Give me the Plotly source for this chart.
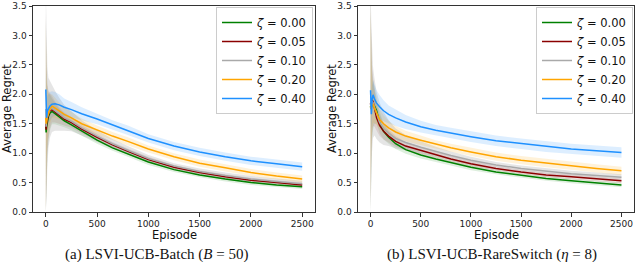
import plotly.graph_objects as go

# ---------------- data ----------------
episodes = [0, 1, 3, 8, 15, 25, 40, 60, 90, 130, 180, 250, 350, 500, 650, 800,
            1000, 1250, 1500, 1750, 2000, 2250, 2500]

zeta_labels = ["0.00", "0.05", "0.10", "0.20", "0.40"]
colors = ["#008000", "#8B0000", "#A9A9A9", "#FFA500", "#1E90FF"]
fills = ["rgba(0,128,0,0.13)", "rgba(139,0,0,0.13)", "rgba(169,169,169,0.30)",
         "rgba(255,165,0,0.15)", "rgba(30,144,255,0.15)"]

# Panel (a) LSVI-UCB-Batch: mean average regret
batch_z000 = [1.45, 1.40, 1.35, 1.45, 1.55, 1.62, 1.68, 1.71, 1.67, 1.61, 1.55, 1.48, 1.37, 1.22, 1.09, 0.99,
              0.85, 0.72, 0.63, 0.56, 0.50, 0.46, 0.43]
batch_z005 = [1.50, 1.45, 1.40, 1.50, 1.58, 1.65, 1.72, 1.74, 1.70, 1.64, 1.58, 1.52, 1.41, 1.27, 1.14, 1.03,
              0.89, 0.76, 0.67, 0.60, 0.54, 0.50, 0.46]
batch_z010 = [1.75, 1.60, 1.45, 1.55, 1.62, 1.68, 1.74, 1.76, 1.72, 1.66, 1.60, 1.54, 1.43, 1.29, 1.16, 1.05,
              0.91, 0.78, 0.69, 0.62, 0.56, 0.52, 0.48]
batch_z020 = [1.60, 1.55, 1.50, 1.55, 1.62, 1.68, 1.75, 1.80, 1.77, 1.72, 1.66, 1.60, 1.50, 1.39, 1.29, 1.20,
              1.07, 0.94, 0.83, 0.75, 0.67, 0.61, 0.56]
batch_z040 = [2.08, 2.00, 1.85, 1.60, 1.72, 1.76, 1.80, 1.83, 1.84, 1.82, 1.78, 1.74, 1.67, 1.58, 1.48, 1.39,
              1.25, 1.12, 1.02, 0.94, 0.87, 0.82, 0.77]

# Panel (a) band half-widths (std)
batch_s000 = [1.9, 1.9, 1.6, 1.0, 0.6, 0.42, 0.30, 0.22, 0.18, 0.14, 0.11, 0.09, 0.07, 0.06, 0.05, 0.05,
              0.05, 0.04, 0.04, 0.04, 0.04, 0.04, 0.04]
batch_s005 = [1.9, 1.9, 1.6, 1.0, 0.6, 0.42, 0.30, 0.22, 0.18, 0.14, 0.11, 0.09, 0.07, 0.06, 0.05, 0.05,
              0.05, 0.04, 0.04, 0.04, 0.04, 0.04, 0.04]
batch_s010 = [2.0, 2.0, 1.8, 1.3, 0.85, 0.6, 0.48, 0.40, 0.34, 0.28, 0.22, 0.17, 0.13, 0.10, 0.08, 0.07,
              0.06, 0.05, 0.05, 0.05, 0.05, 0.05, 0.05]
batch_s020 = [1.6, 1.5, 1.2, 0.7, 0.45, 0.32, 0.25, 0.20, 0.17, 0.14, 0.12, 0.10, 0.09, 0.08, 0.07, 0.07,
              0.06, 0.06, 0.06, 0.06, 0.06, 0.06, 0.06]
batch_s040 = [0.25, 0.25, 0.25, 0.25, 0.25, 0.25, 0.24, 0.22, 0.20, 0.18, 0.15, 0.13, 0.11, 0.09, 0.08, 0.08,
              0.07, 0.07, 0.07, 0.07, 0.07, 0.07, 0.07]

# Panel (b) LSVI-UCB-RareSwitch: mean average regret
rare_z000 = [1.80, 1.78, 1.75, 1.78, 1.82, 1.82, 1.80, 1.72, 1.52, 1.37, 1.27, 1.16, 1.06, 0.97, 0.90, 0.84,
             0.76, 0.68, 0.62, 0.57, 0.53, 0.49, 0.46]
rare_z005 = [1.85, 1.82, 1.80, 1.85, 1.90, 1.88, 1.75, 1.60, 1.47, 1.37, 1.29, 1.20, 1.12, 1.05, 0.97, 0.90,
             0.82, 0.74, 0.68, 0.63, 0.60, 0.56, 0.53]
rare_z010 = [1.85, 1.82, 1.80, 1.84, 1.88, 1.86, 1.78, 1.64, 1.52, 1.42, 1.34, 1.25, 1.18, 1.10, 1.03, 0.96,
             0.88, 0.80, 0.74, 0.69, 0.65, 0.62, 0.59]
rare_z020 = [1.80, 1.78, 1.75, 1.78, 1.82, 1.84, 1.76, 1.68, 1.57, 1.50, 1.43, 1.36, 1.29, 1.22, 1.15, 1.09,
             1.02, 0.94, 0.88, 0.83, 0.78, 0.74, 0.70]
rare_z040 = [2.07, 1.95, 1.80, 1.66, 1.90, 1.99, 1.92, 1.85, 1.79, 1.72, 1.66, 1.60, 1.53, 1.45, 1.39, 1.34,
             1.28, 1.21, 1.16, 1.11, 1.07, 1.04, 1.01]

rare_s000 = [1.9, 1.9, 1.6, 1.0, 0.6, 0.42, 0.30, 0.22, 0.18, 0.14, 0.11, 0.09, 0.07, 0.06, 0.05, 0.05,
             0.05, 0.04, 0.04, 0.04, 0.04, 0.04, 0.04]
rare_s005 = [1.9, 1.9, 1.6, 1.0, 0.6, 0.42, 0.30, 0.22, 0.18, 0.14, 0.11, 0.09, 0.07, 0.06, 0.05, 0.05,
             0.05, 0.04, 0.04, 0.04, 0.04, 0.04, 0.04]
rare_s010 = [2.0, 2.0, 1.8, 1.3, 0.85, 0.6, 0.48, 0.40, 0.34, 0.28, 0.22, 0.17, 0.13, 0.10, 0.08, 0.07,
             0.06, 0.05, 0.05, 0.05, 0.05, 0.05, 0.05]
rare_s020 = [1.6, 1.5, 1.2, 0.7, 0.45, 0.32, 0.25, 0.20, 0.17, 0.14, 0.12, 0.10, 0.09, 0.08, 0.07, 0.07,
             0.07, 0.07, 0.07, 0.07, 0.07, 0.07, 0.07]
rare_s040 = [0.25, 0.25, 0.25, 0.25, 0.25, 0.25, 0.24, 0.22, 0.20, 0.18, 0.15, 0.14, 0.12, 0.10, 0.09, 0.09,
             0.09, 0.09, 0.09, 0.09, 0.09, 0.09, 0.09]

x_ticks = [0, 500, 1000, 1500, 2000, 2500]
y_ticks = [0.0, 0.5, 1.0, 1.5, 2.0, 2.5, 3.0, 3.5]
y_ticktext = ["0.0", "0.5", "1.0", "1.5", "2.0", "2.5", "3.0", "3.5"]
captions = ["(a) LSVI-UCB-Batch (<i>B</i> = 50)", "(b) LSVI-UCB-RareSwitch (<i>η</i> = 8)"]

panels = [
    ([batch_z000, batch_z005, batch_z010, batch_z020, batch_z040],
     [batch_s000, batch_s005, batch_s010, batch_s020, batch_s040]),
    ([rare_z000, rare_z005, rare_z010, rare_z020, rare_z040],
     [rare_s000, rare_s005, rare_s010, rare_s020, rare_s040]),
]

# ---------------- figure ----------------
W, H = 640, 262
fig = go.Figure()

axes = [("x", "y", "legend"), ("x2", "y2", "legend2")]
for p, (means, stds) in enumerate(panels):
    xa, ya, lg = axes[p]
    for i in range(5):
        up = [m + s for m, s in zip(means[i], stds[i])]
        lo = [max(m - s, 0.0) for m, s in zip(means[i], stds[i])]
        fig.add_trace(go.Scatter(
            x=episodes + episodes[::-1], y=up + lo[::-1],
            fill="toself", fillcolor=fills[i], line=dict(width=0),
            mode="lines", hoverinfo="skip", showlegend=False,
            xaxis=xa, yaxis=ya))
    for i in range(5):
        fig.add_trace(go.Scatter(
            x=episodes, y=means[i], mode="lines",
            line=dict(color=colors[i], width=1.5),
            name="<i>ζ</i> = " + zeta_labels[i],
            legend=lg, xaxis=xa, yaxis=ya))


def px_x(v):
    return v / W


def px_y(v):
    return 1 - v / H


dom = [(33, 315), (358, 634)]
top, bot = 6, 212

axis_common = dict(
    showgrid=False, zeroline=False, showline=True, mirror=True,
    linecolor="#333333", linewidth=1, ticks="outside", ticklen=3.5,
    tickwidth=1, tickcolor="#333333", automargin=False,
    ticklabeloverflow="allow",
    tickfont=dict(family="DejaVu Sans", size=9, color="#222222"),
)

fig.update_layout(
    width=W, height=H, margin=dict(l=0, r=0, t=0, b=0, autoexpand=False),
    paper_bgcolor="white", plot_bgcolor="white",
    xaxis=dict(domain=[px_x(dom[0][0]), px_x(dom[0][1])], range=[-125, 2625],
               tickvals=x_ticks, anchor="y", **axis_common),
    yaxis=dict(domain=[px_y(bot), px_y(top)], range=[0, 3.5001], tickvals=y_ticks,
               ticktext=y_ticktext, anchor="x", **axis_common),
    xaxis2=dict(domain=[px_x(dom[1][0]), px_x(dom[1][1])], range=[-125, 2625],
                tickvals=x_ticks, anchor="y2", **axis_common),
    yaxis2=dict(domain=[px_y(bot), px_y(top)], range=[0, 3.5001], tickvals=y_ticks,
                ticktext=y_ticktext, anchor="x2", **axis_common),
)

legend_common = dict(
    bgcolor="rgba(255,255,255,0.85)", bordercolor="#cccccc", borderwidth=1,
    font=dict(family="DejaVu Sans", size=11.5, color="#111111"),
    xanchor="right", yanchor="top", tracegroupgap=0,
)
fig.update_layout(
    legend=dict(x=px_x(313), y=px_y(7), **legend_common),
    legend2=dict(x=px_x(633), y=px_y(7), **legend_common),
)

annots = []
for p in range(2):
    cx = (dom[p][0] + dom[p][1]) / 2
    annots.append(dict(text="Episode", x=px_x(cx), y=px_y(235), xref="paper", yref="paper",
                       showarrow=False, xanchor="center", yanchor="middle",
                       font=dict(family="DejaVu Sans", size=11.5, color="#111111")))
    annots.append(dict(text="Average Regret", x=px_x(dom[p][0] - 26), y=px_y((top + bot) / 2),
                       xref="paper", yref="paper", textangle=-90,
                       showarrow=False, xanchor="center", yanchor="middle",
                       font=dict(family="DejaVu Sans", size=11.5, color="#111111")))
caption_cx = [156, 492]
for p in range(2):
    annots.append(dict(text=captions[p], x=px_x(caption_cx[p]), y=px_y(254),
                       xref="paper", yref="paper", showarrow=False,
                       xanchor="center", yanchor="middle",
                       font=dict(family="Liberation Serif", size=15, color="#111111")))
fig.update_layout(annotations=annots)

fig.write_html("out.html", config={"displayModeBar": False},
               post_script="document.body.style.margin='0';")
